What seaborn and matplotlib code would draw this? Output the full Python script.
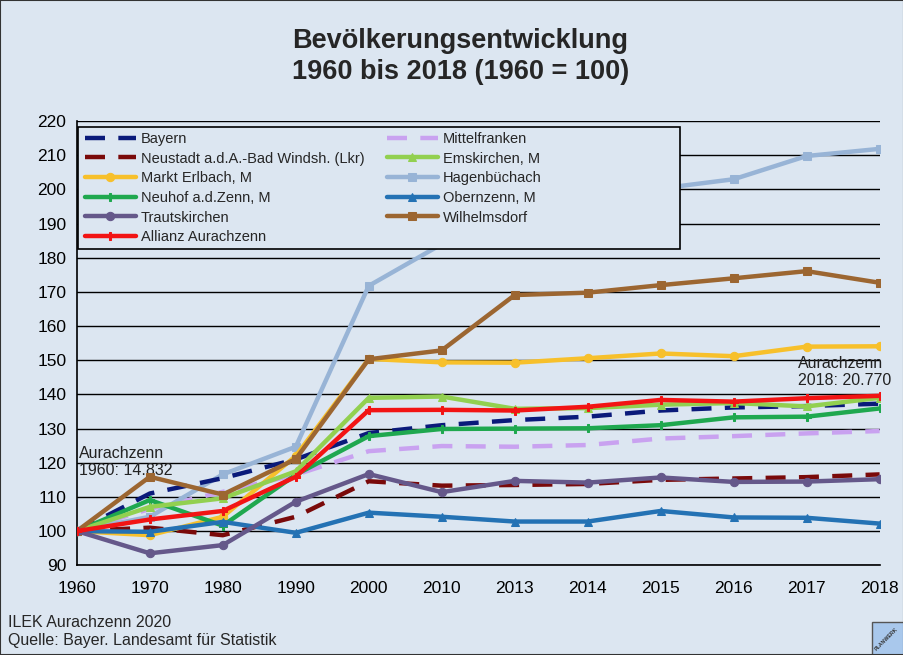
import pandas as pd
import seaborn as sns
import matplotlib.pyplot as plt
from matplotlib.patches import Rectangle

# Daten (1960 = 100)
jahre = ["1960", "1970", "1980", "1990", "2000", "2010", "2013", "2014", "2015", "2016", "2017", "2018"]

bayern = [100, 111, 115.5, 121, 128.7, 131, 132.5, 133.5, 135.3, 136.2, 136.6, 137.3]
neustadt = [100, 101, 98.8, 104.2, 114.6, 113.3, 113.5, 113.8, 115, 115.4, 115.8, 116.6]
markt_erlbach = [100, 98.8, 104.2, 122, 150.4, 149.4, 149.3, 150.6, 152, 151.2, 154, 154.1]
neuhof = [100, 109.1, 101.6, 116.5, 127.8, 129.9, 130, 130.1, 131, 133.3, 133.5, 135.9]
trautskirchen = [100, 93.5, 95.9, 108.6, 116.7, 111.4, 114.7, 114.2, 115.7, 114.4, 114.5, 115.2]
allianz = [100, 103.4, 105.9, 115.9, 135.4, 135.5, 135.3, 136.4, 138.4, 137.9, 138.9, 139.6]
mittelfranken = [100, 106.5, 111.5, 116.5, 123.4, 124.9, 124.7, 125.2, 127.1, 127.8, 128.6, 129.3]
emskirchen = [100, 107.1, 109.6, 117.5, 139, 139.4, 135.8, 136, 137, 137.5, 136.5, 139]
hagenbuechach = [100, 104.2, 116.6, 124.7, 171.8, 184, 193, 197, 200.3, 203, 209.8, 211.9]
obernzenn = [100, 99.8, 102.7, 99.5, 105.4, 104.2, 102.8, 102.8, 105.9, 104, 103.9, 102.2]
wilhelmsdorf = [100, 115.9, 110.7, 121.1, 150.3, 152.9, 169.1, 169.8, 172, 174, 176.1, 172.7]

namen = ["Bayern", "Neustadt a.d.A.-Bad Windsh. (Lkr)", "Markt Erlbach, M", "Neuhof a.d.Zenn, M",
         "Trautskirchen", "Allianz Aurachzenn", "Mittelfranken", "Emskirchen, M", "Hagenbüchach",
         "Obernzenn, M", "Wilhelmsdorf"]
werte = [bayern, neustadt, markt_erlbach, neuhof, trautskirchen, allianz, mittelfranken,
         emskirchen, hagenbuechach, obernzenn, wilhelmsdorf]
farben = ["#0a1a7a", "#7a0a0a", "#f7c02b", "#1fa84f", "#65588a", "#f21414", "#c9a2f0",
          "#92d050", "#98b4d6", "#2472b4", "#9c6631"]
marker = ["", "", "o", "P", "o", "P", "", "^", "s", "^", "s"]
gestrichelt = [True, True, False, False, False, False, True, False, False, False, False]

bg = "#dce6f1"

sns.set_style("white")
plt.rcParams["font.family"] = ["Liberation Sans", "DejaVu Sans"]

fig = plt.figure(figsize=(9.04, 6.55), dpi=100, facecolor=bg)
ax = fig.add_axes([0.085, 0.137, 0.888, 0.678])
ax.set_facecolor(bg)

zorders = [4, 3, 4, 4, 5, 6, 3, 4, 3, 4, 4]
for name, w, c, m, d, z in zip(namen, werte, farben, marker, gestrichelt, zorders):
    df = pd.DataFrame({"x": range(len(jahre)), "y": w})
    sns.lineplot(data=df, x="x", y="y", ax=ax, color=c, linewidth=3.2,
                 marker=m if m else None, markersize=6, markeredgecolor=c,
                 label=name, zorder=z)
    if d:
        ax.lines[-1].set_dashes((4.5, 3))

ax.set_ylim(90, 220)
ax.set_xlim(0, len(jahre) - 1)
ax.set_yticks(range(90, 221, 10))
ax.set_xticks(range(len(jahre)))
ax.set_xticklabels(jahre)
ax.set_xlabel("")
ax.set_ylabel("")
ax.tick_params(axis="both", labelsize=12.5, colors="black", length=5, width=1)
ax.tick_params(axis="x", direction="out", pad=6)
ax.tick_params(axis="y", direction="inout", length=8)
ax.grid(axis="y", color="black", linewidth=1)
ax.set_axisbelow(True)
for s in ["top", "right"]:
    ax.spines[s].set_visible(False)
for s in ["left", "bottom"]:
    ax.spines[s].set_color("black")
    ax.spines[s].set_linewidth(1.2)

# Legende: Rahmen + zwei Spalten
ax.add_patch(Rectangle((0.001, 0.712), 0.75, 0.274, transform=ax.transAxes,
                       facecolor=bg, edgecolor="black", linewidth=1.2, zorder=9))
handles, labels = ax.get_legend_handles_labels()
ax.get_legend().remove() if ax.get_legend() else None
leg_kw = dict(fontsize=10.5, frameon=False, handlelength=3.5, handletextpad=0.35,
              labelspacing=0.39, borderpad=0, borderaxespad=0, loc="upper left")
leg1 = ax.legend(handles[:6], labels[:6], bbox_to_anchor=(0.01, 0.976), **leg_kw)
leg1.set_zorder(10)
ax.add_artist(leg1)
leg2 = ax.legend(handles[6:], labels[6:], bbox_to_anchor=(0.386, 0.976), **leg_kw)
leg2.set_zorder(10)

fig.text(0.509, 0.913, "Bevölkerungsentwicklung\n1960 bis 2018 (1960 = 100)", ha="center",
         va="center", fontsize=19.5, fontweight="bold", linespacing=1.25)

ax.text(0.03, 120.2, "Aurachzenn\n1960: 14.832", fontsize=11.5, color="#222222",
        ha="left", va="center", linespacing=1.2)
ax.text(9.88, 146.5, "Aurachzenn\n2018: 20.770", fontsize=11.5, color="#222222",
        ha="left", va="center", linespacing=1.2)

fig.text(0.009, 0.036, "ILEK Aurachzenn 2020\nQuelle: Bayer. Landesamt für Statistik",
         fontsize=11.5, ha="left", va="center", linespacing=1.3)

# kleines Logo unten rechts
fig.patches.append(Rectangle((0.965, 0.0), 0.04, 0.05, transform=fig.transFigure,
                             facecolor="#a9c8ec", edgecolor="#555555", linewidth=1))
fig.text(0.981, 0.024, "PLANWERK", fontsize=3.8, rotation=45, ha="center", va="center",
         fontweight="bold", color="#333333")

fig.patches.append(Rectangle((0, 0), 1, 1, transform=fig.transFigure, fill=False,
                             edgecolor="#333333", linewidth=1.5))

fig.savefig("out.png", dpi=100, facecolor=bg)
